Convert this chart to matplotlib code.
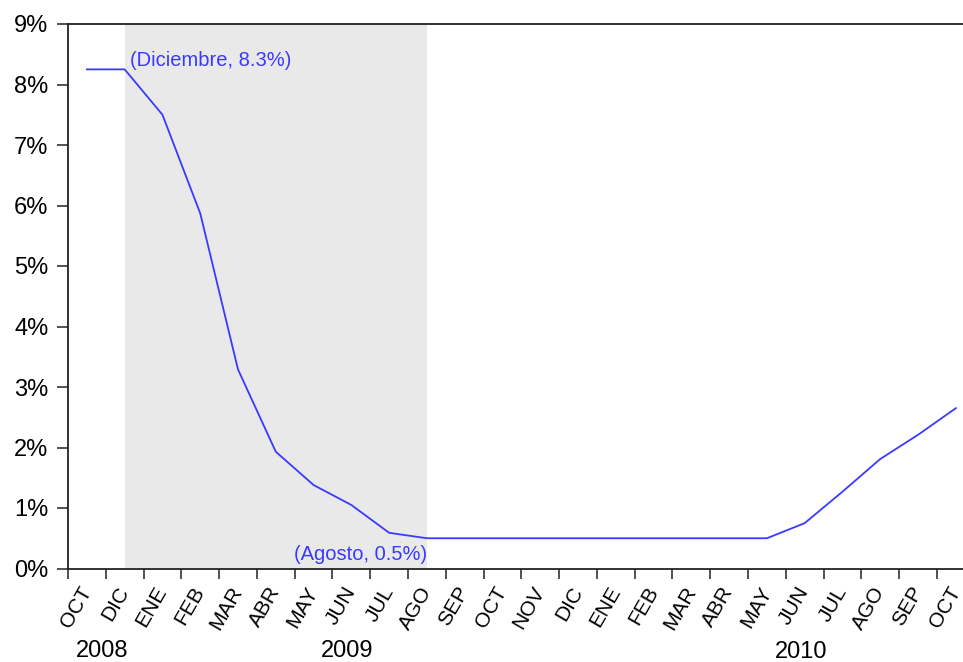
import matplotlib
matplotlib.use("Agg")
import matplotlib.pyplot as plt
from matplotlib.ticker import FixedLocator, PercentFormatter

plt.rcParams['font.family'] = ['Liberation Sans', 'DejaVu Sans']

month_labels = ["OCT", "DIC", "ENE", "FEB", "MAR", "ABR", "MAY", "JUN", "JUL", "AGO",
                "SEP", "OCT", "NOV", "DIC", "ENE", "FEB", "MAR", "ABR", "MAY", "JUN",
                "JUL", "AGO", "SEP", "OCT"]
rate = [8.25, 8.25, 7.50, 5.87, 3.29, 1.93, 1.38, 1.05, 0.59, 0.50,
        0.50, 0.50, 0.50, 0.50, 0.50, 0.50, 0.50, 0.50, 0.50, 0.75,
        1.27, 1.81, 2.21, 2.65]
year_labels = ["2008", "2009", "2010"]
year_pos = [0.4, 6.9, 18.9]
year_y_px = [651, 651, 652]
shade_start, shade_end = 1, 9
ann_high = "(Diciembre, 8.3%)"
ann_low = "(Agosto, 0.5%)"

blue = "#3a3aff"

fig = plt.figure(figsize=(9.63, 6.62), dpi=100)
ax = fig.add_axes([68/963, 93.5/662, 895/963, 544.5/662])

x = list(range(len(rate)))
ax.axvspan(shade_start, shade_end, color="#e9e9e9", lw=0, zorder=0)
ax.plot(x, rate, color=blue, lw=1.3, zorder=3)

ax.set_xlim(-0.5, -0.5 + 895/37.78)
ax.set_ylim(0, 9)

ax.xaxis.set_major_locator(FixedLocator([i - 0.5 for i in range(len(rate))]))
ax.xaxis.set_minor_locator(FixedLocator(x))
ax.set_xticklabels([], minor=False)
ax.set_xticklabels(month_labels, minor=True, rotation=60, ha='right', va='center',
                   rotation_mode='anchor', fontsize=15)
ax.tick_params(axis='x', which='major', direction='out', length=7, width=1.1, color='#222222')
ax.tick_params(axis='x', which='minor', length=0, pad=14)

ax.set_yticks(range(0, 10))
ax.yaxis.set_major_formatter(PercentFormatter(decimals=0))
ax.tick_params(axis='y', direction='out', length=8, width=1.1, color='#222222',
               labelsize=17, pad=6)

for s in ['left', 'bottom', 'top']:
    ax.spines[s].set_linewidth(1.3)
    ax.spines[s].set_color('#222222')
ax.spines['right'].set_visible(False)

ax.annotate(ann_high, xy=(1, rate[1]), xytext=(4, -0.5), textcoords='offset points',
            ha='left', va='bottom', color=blue, fontsize=14.5)
ax.annotate(ann_low, xy=(9, rate[9]), xytext=(0, -5), textcoords='offset points',
            ha='right', va='top', color=blue, fontsize=14.5)

for lab, p, ypx in zip(year_labels, year_pos, year_y_px):
    ax.text(p, -(ypx - 568.5) / 544.5, lab, transform=ax.get_xaxis_transform(),
            fontsize=17, ha='center', va='center')

fig.savefig("out.png", dpi=100)
